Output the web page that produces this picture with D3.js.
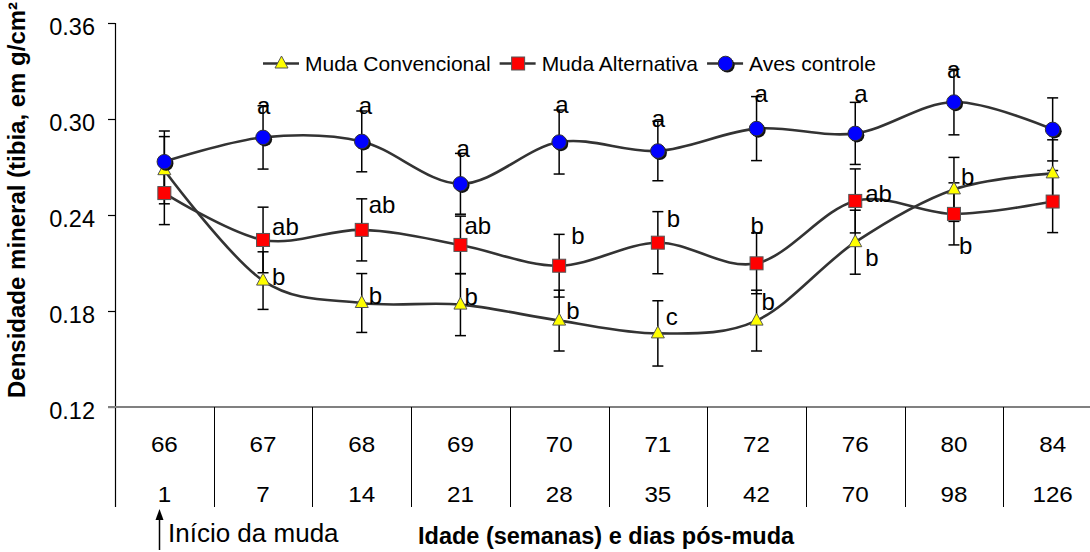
<!DOCTYPE html>
<html>
<head>
<meta charset="utf-8">
<script src="https://cdn.jsdelivr.net/npm/d3@7"></script>
<style>
  html, body { margin: 0; padding: 0; background: #fff; }
  svg { display: block; font-family: "Liberation Sans", Arial, sans-serif; }
</style>
</head>
<body>
<svg id="chart" width="1090" height="552"></svg>
<script>
// ---------- data ----------
const weeks = ["66", "67", "68", "69", "70", "71", "72", "76", "80", "84"];
const days = ["1", "7", "14", "21", "28", "35", "42", "70", "98", "126"];
const yTicks = [0.12, 0.18, 0.24, 0.30, 0.36];

const seriesNames = ["Muda Convencional", "Muda Alternativa", "Aves controle"];

const convencional = [0.268, 0.199, 0.185, 0.184, 0.174, 0.166, 0.174, 0.223, 0.256, 0.266];
const convencionalErr = [0.021, 0.018, 0.0184, 0.0194, 0.019, 0.0204, 0.019, 0.020, 0.020, 0.021];
const convencionalLetters = ["", "b", "b", "b", "b", "c", "b", "b", "b", ""];

const alternativa = [0.2537, 0.2244, 0.2307, 0.2213, 0.2083, 0.2227, 0.2098, 0.2488, 0.2407, 0.2484];
const alternativaErr = [0.0197, 0.0205, 0.0194, 0.018, 0.0196, 0.0194, 0.019, 0.020, 0.0194, 0.0194];
const alternativaLetters = ["", "ab", "ab", "ab", "b", "b", "b", "ab", "b", ""];

const controle = [0.2733, 0.2885, 0.286, 0.2595, 0.2856, 0.280, 0.294, 0.291, 0.3106, 0.2935];
const controleErr = [0.0192, 0.0198, 0.019, 0.019, 0.020, 0.0186, 0.020, 0.0194, 0.0205, 0.0197];
const controleLetters = ["", "a", "a", "a", "a", "a", "a", "a", "a", ""];

// ---------- layout (pixel nudges for the significance letters, relative to each point) ----------
const convNudge = [null, [9, 4], [7, 1], [4, 0], [7, -2], [8, -8], [5, -11], [10, 24], [7, -4], null];
const altNudge  = [null, [9, -5], [7, -17], [4, -11], [12, -22], [9, -16], [-6, -29], [10, 1], [5, 40], null];
const ctrlNudge = [null, [-6, -23], [-3, -27], [-4, -27], [-4, -29], [-6, -24], [-2, -27], [-1, -31], [-7, -24], null];

// ---------- chart ----------
const svg = d3.select("#chart");
const left = 115, bandW = 98.7;
const x = d3.scaleBand().domain(weeks).range([left, left + bandW * weeks.length]).padding(0);
const cx = d => x(d) + x.bandwidth() / 2;
const y = d3.scaleLinear().domain([0.12, 0.36]).range([407, 23]);

// y axis
const yAxis = d3.axisLeft(y).tickValues(yTicks).tickFormat(d3.format(".2f")).tickSize(7).tickPadding(13);
const gy = svg.append("g").attr("transform", `translate(${left},0)`).call(yAxis);
gy.select(".domain").remove();
gy.selectAll(".tick line").attr("stroke", "#000").attr("stroke-width", 1.2);
gy.selectAll(".tick text").attr("font-size", 23.5).attr("fill", "#000")
  .attr("font-family", "Liberation Sans, Arial, sans-serif").attr("dy", "0.5em");
// vertical axis line (extends through the table)
svg.append("line").attr("x1", left + 0.5).attr("x2", left + 0.5).attr("y1", y(0.36)).attr("y2", 507)
  .attr("stroke", "#000").attr("stroke-width", 1.2);
// baseline at 0.12 (grey)
svg.append("line").attr("x1", 108).attr("x2", 1090).attr("y1", y(0.12)).attr("y2", y(0.12))
  .attr("stroke", "#808080").attr("stroke-width", 2);

// table below the axis
const tbl = svg.append("g");
weeks.forEach((w, i) => {
  const xr = x(w) + x.bandwidth();
  tbl.append("line").attr("x1", Math.round(xr) + 0.5).attr("x2", Math.round(xr) + 0.5)
    .attr("y1", y(0.12)).attr("y2", 507).attr("stroke", "#000").attr("stroke-width", 1);
  tbl.append("text").attr("transform", `translate(${cx(w)},452) scale(1.1,1)`)
    .attr("text-anchor", "middle").attr("font-size", 22).text(w);
  tbl.append("text").attr("transform", `translate(${cx(w)},502) scale(1.1,1)`)
    .attr("text-anchor", "middle").attr("font-size", 22).text(days[i]);
});

// arrow + "Início da muda"
svg.append("line").attr("x1", 159.5).attr("x2", 159.5).attr("y1", 550).attr("y2", 518)
  .attr("stroke", "#000").attr("stroke-width", 1.5);
svg.append("path").attr("d", "M159.5,509 L163.5,520 L155.5,520 Z").attr("fill", "#000");
svg.append("text").attr("x", 168).attr("y", 542).attr("font-size", 26).text("Início da muda");

// axis titles
svg.append("text").attr("x", 418).attr("y", 544).attr("font-size", 23.5).attr("font-weight", "bold")
  .text("Idade (semanas) e dias pós-muda");
svg.append("text").attr("transform", "translate(25,398) rotate(-90)").attr("font-size", 24)
  .attr("font-weight", "bold").text("Densidade mineral (tibia, em g/cm²");

// series
const series = [
  { name: seriesNames[0], vals: convencional, err: convencionalErr, letters: convencionalLetters, nudge: convNudge, shape: "tri" },
  { name: seriesNames[1], vals: alternativa, err: alternativaErr, letters: alternativaLetters, nudge: altNudge, shape: "sq" },
  { name: seriesNames[2], vals: controle, err: controleErr, letters: controleLetters, nudge: ctrlNudge, shape: "circ" }
];

const line = d3.line().x((d, i) => cx(weeks[i])).y(d => y(d)).curve(d3.curveCatmullRom.alpha(0));
series.forEach(s => {
  svg.append("path").attr("d", line(s.vals)).attr("fill", "none")
    .attr("stroke", "#333").attr("stroke-width", 2.6);
});

// error bars
series.forEach(s => {
  const g = svg.append("g").attr("stroke", "#000").attr("stroke-width", 1.5);
  s.vals.forEach((v, i) => {
    const xc = cx(weeks[i]);
    const y1 = y(v + s.err[i]), y2 = y(v - s.err[i]);
    g.append("line").attr("x1", xc).attr("x2", xc).attr("y1", y1).attr("y2", y2);
    g.append("line").attr("x1", xc - 5.5).attr("x2", xc + 5.5).attr("y1", y1).attr("y2", y1);
    g.append("line").attr("x1", xc - 5.5).attr("x2", xc + 5.5).attr("y1", y2).attr("y2", y2);
  });
});

function drawMarker(g, shape, xc, yc) {
  if (shape === "tri") {
    g.append("path").attr("d", `M${xc},${yc - 7.5} L${xc + 6.5},${yc + 4.5} L${xc - 6.5},${yc + 4.5} Z`)
      .attr("fill", "#FFFF00").attr("stroke", "#555").attr("stroke-width", 1);
  } else if (shape === "sq") {
    g.append("rect").attr("x", xc - 6.5).attr("y", yc - 6.5).attr("width", 13).attr("height", 13)
      .attr("fill", "#FF0000").attr("stroke", "#555").attr("stroke-width", 1);
  } else {
    g.append("circle").attr("cx", xc + 1.8).attr("cy", yc + 1.8).attr("r", 7.3).attr("fill", "#111");
    g.append("circle").attr("cx", xc).attr("cy", yc).attr("r", 7.3)
      .attr("fill", "#0000FF").attr("stroke", "#333").attr("stroke-width", 1);
  }
}

// markers
series.forEach(s => {
  const g = svg.append("g");
  s.vals.forEach((v, i) => drawMarker(g, s.shape, cx(weeks[i]), y(v)));
});

// letters
series.forEach(s => {
  s.vals.forEach((v, i) => {
    if (!s.letters[i]) return;
    const n = s.nudge[i];
    svg.append("text").attr("x", cx(weeks[i]) + n[0]).attr("y", y(v) + n[1])
      .attr("font-size", 24).attr("fill", "#000").text(s.letters[i]);
  });
});

// legend
const leg = svg.append("g");
let lx = 263, ly = 63.5;
series.forEach(s => {
  leg.append("line").attr("x1", lx).attr("x2", lx + 36).attr("y1", ly).attr("y2", ly)
    .attr("stroke", "#333").attr("stroke-width", 2.6);
  drawMarker(leg, s.shape, lx + 18.5, ly);
  const t = leg.append("text").attr("x", lx + 42).attr("y", 70.5).attr("font-size", 21).text(s.name);
  lx = lx + 42 + t.node().getComputedTextLength() + 9;
});
</script>
</body>
</html>
